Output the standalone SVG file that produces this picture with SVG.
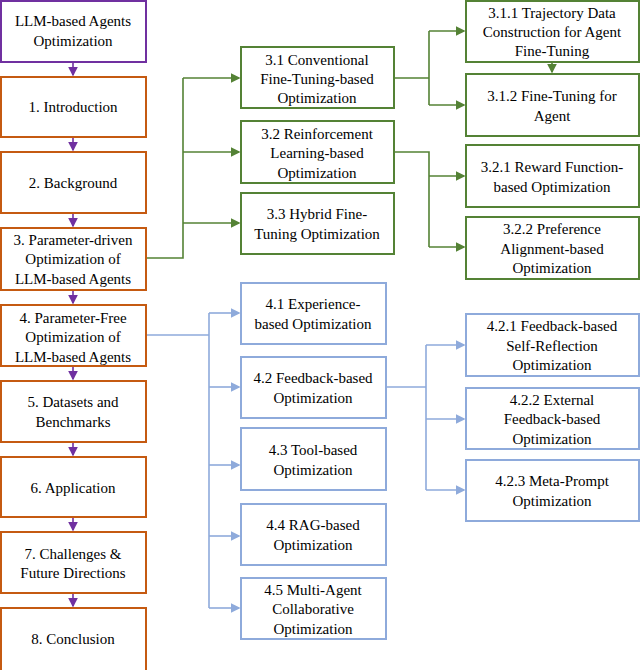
<svg xmlns="http://www.w3.org/2000/svg" width="640" height="670" viewBox="0 0 640 670">
<style>
rect{fill:#fff;stroke-width:2}
.p{stroke:#7030a0}.o{stroke:#c55a11}.g{stroke:#548235}.b{stroke:#8eaadb}
text{font-family:"Liberation Serif","Times New Roman",serif;font-size:15px;fill:#000;text-anchor:middle}
.cg{stroke:#548235;fill:none;stroke-width:1.6}
.cb{stroke:#8eaadb;fill:none;stroke-width:1.6}
.cp{stroke:#7030a0;fill:none;stroke-width:1.6}
</style>
<defs>
<marker id="ag" markerWidth="6" markerHeight="6" refX="5" refY="3" orient="auto"><path d="M0,0L6,3L0,6z" fill="#548235"/></marker>
<marker id="ab" markerWidth="6" markerHeight="6" refX="5" refY="3" orient="auto"><path d="M0,0L6,3L0,6z" fill="#8eaadb"/></marker>
<marker id="ap" markerWidth="6" markerHeight="6" refX="5" refY="3" orient="auto"><path d="M0,0L6,3L0,6z" fill="#7030a0"/></marker>
</defs>
<g font-family="Liberation Serif, serif">
<g id="n0"><rect class="p" x="1" y="1" width="145" height="61"/><text x="73" y="26">LLM-based Agents</text><text x="73" y="46">Optimization</text></g>
<g id="n1"><rect class="o" x="1" y="77" width="145" height="60"/><text x="73" y="112">1. Introduction</text></g>
<g id="n2"><rect class="o" x="1" y="152" width="145" height="61"/><text x="73" y="188">2. Background</text></g>
<g id="n3"><rect class="o" x="1" y="228" width="145" height="62"/><text x="73" y="245">3. Parameter-driven</text><text x="73" y="264">Optimization of</text><text x="73" y="284">LLM-based Agents</text></g>
<g id="n4"><rect class="o" x="1" y="305" width="145" height="61"/><text x="73" y="323">4. Parameter-Free</text><text x="73" y="342">Optimization of</text><text x="73" y="362">LLM-based Agents</text></g>
<g id="n5"><rect class="o" x="1" y="381" width="145" height="61"/><text x="73" y="407">5. Datasets and</text><text x="73" y="427">Benchmarks</text></g>
<g id="n6"><rect class="o" x="1" y="457" width="145" height="60"/><text x="73" y="493">6. Application</text></g>
<g id="n7"><rect class="o" x="1" y="532" width="145" height="61"/><text x="73" y="559">7. Challenges &amp;</text><text x="73" y="578">Future Directions</text></g>
<g id="n8"><rect class="o" x="1" y="608" width="145" height="70"/><text x="73" y="644">8. Conclusion</text></g>
<g id="n31"><rect class="g" x="241" y="47" width="153" height="61"/><text x="317" y="65">3.1 Conventional</text><text x="317" y="84">Fine-Tuning-based</text><text x="317" y="103">Optimization</text></g>
<g id="n32"><rect class="g" x="241" y="121" width="153" height="62"/><text x="317" y="139">3.2 Reinforcement</text><text x="317" y="158">Learning-based</text><text x="317" y="178">Optimization</text></g>
<g id="n33"><rect class="g" x="241" y="193" width="153" height="61"/><text x="317" y="219">3.3 Hybrid Fine-</text><text x="317" y="239">Tuning Optimization</text></g>
<g id="n311"><rect class="g" x="466" y="1" width="173" height="61"/><text x="552" y="18">3.1.1 Trajectory Data</text><text x="552" y="37">Construction for Agent</text><text x="552" y="56">Fine-Tuning</text></g>
<g id="n312"><rect class="g" x="466" y="74" width="173" height="62"/><text x="552" y="101">3.1.2 Fine-Tuning for</text><text x="552" y="121">Agent</text></g>
<g id="n321"><rect class="g" x="466" y="145" width="173" height="62"/><text x="552" y="172">3.2.1 Reward Function-</text><text x="552" y="192">based Optimization</text></g>
<g id="n322"><rect class="g" x="466" y="217" width="173" height="62"/><text x="552" y="234">3.2.2 Preference</text><text x="552" y="254">Alignment-based</text><text x="552" y="273">Optimization</text></g>
<g id="n41"><rect class="b" x="241" y="283" width="145" height="61"/><text x="313" y="309">4.1 Experience-</text><text x="313" y="329">based Optimization</text></g>
<g id="n42"><rect class="b" x="241" y="357" width="145" height="61"/><text x="313" y="383">4.2 Feedback-based</text><text x="313" y="403">Optimization</text></g>
<g id="n43"><rect class="b" x="241" y="428" width="145" height="62"/><text x="313" y="455">4.3 Tool-based</text><text x="313" y="475">Optimization</text></g>
<g id="n44"><rect class="b" x="241" y="504" width="145" height="61"/><text x="313" y="530">4.4 RAG-based</text><text x="313" y="550">Optimization</text></g>
<g id="n45"><rect class="b" x="241" y="578" width="145" height="61"/><text x="313" y="595">4.5 Multi-Agent</text><text x="313" y="614">Collaborative</text><text x="313" y="634">Optimization</text></g>
<g id="n421"><rect class="b" x="466" y="314" width="173" height="62"/><text x="552" y="331">4.2.1 Feedback-based</text><text x="552" y="351">Self-Reflection</text><text x="552" y="370">Optimization</text></g>
<g id="n422"><rect class="b" x="466" y="388" width="173" height="61"/><text x="552" y="405">4.2.2 External</text><text x="552" y="424">Feedback-based</text><text x="552" y="444">Optimization</text></g>
<g id="n423"><rect class="b" x="466" y="460" width="173" height="61"/><text x="552" y="486">4.2.3 Meta-Prompt</text><text x="552" y="506">Optimization</text></g>
</g>
<g id="connectors">
<path class="cp" marker-end="url(#ap)" d="M73,63V75"/>
<path class="cp" marker-end="url(#ap)" d="M73,138V150"/>
<path class="cp" marker-end="url(#ap)" d="M73,214V226"/>
<path class="cp" marker-end="url(#ap)" d="M73,291V303"/>
<path class="cp" marker-end="url(#ap)" d="M73,367V379"/>
<path class="cp" marker-end="url(#ap)" d="M73,443V455"/>
<path class="cp" marker-end="url(#ap)" d="M73,518V530"/>
<path class="cp" marker-end="url(#ap)" d="M73,594V606"/>
<path class="cg" d="M147,258H183V78"/>
<path class="cg" marker-end="url(#ag)" d="M183,78H239"/>
<path class="cg" marker-end="url(#ag)" d="M183,152H239"/>
<path class="cg" marker-end="url(#ag)" d="M183,223H239"/>
<path class="cg" d="M395,78H429M429,31V105M395,152H429V247"/>
<path class="cg" marker-end="url(#ag)" d="M429,31H464"/>
<path class="cg" marker-end="url(#ag)" d="M429,105H464"/>
<path class="cg" marker-end="url(#ag)" d="M552,63V72"/>
<path class="cg" marker-end="url(#ag)" d="M429,176H464"/>
<path class="cg" marker-end="url(#ag)" d="M429,247H464"/>
<path class="cb" d="M147,335H209M209,313V608"/>
<path class="cb" marker-end="url(#ab)" d="M209,313H239"/>
<path class="cb" marker-end="url(#ab)" d="M209,387H239"/>
<path class="cb" marker-end="url(#ab)" d="M209,465H239"/>
<path class="cb" marker-end="url(#ab)" d="M209,536H239"/>
<path class="cb" marker-end="url(#ab)" d="M209,608H239"/>
<path class="cb" d="M387,387H426M426,345V490"/>
<path class="cb" marker-end="url(#ab)" d="M426,345H464"/>
<path class="cb" marker-end="url(#ab)" d="M426,419H464"/>
<path class="cb" marker-end="url(#ab)" d="M426,490H464"/>
</g>
</svg>
